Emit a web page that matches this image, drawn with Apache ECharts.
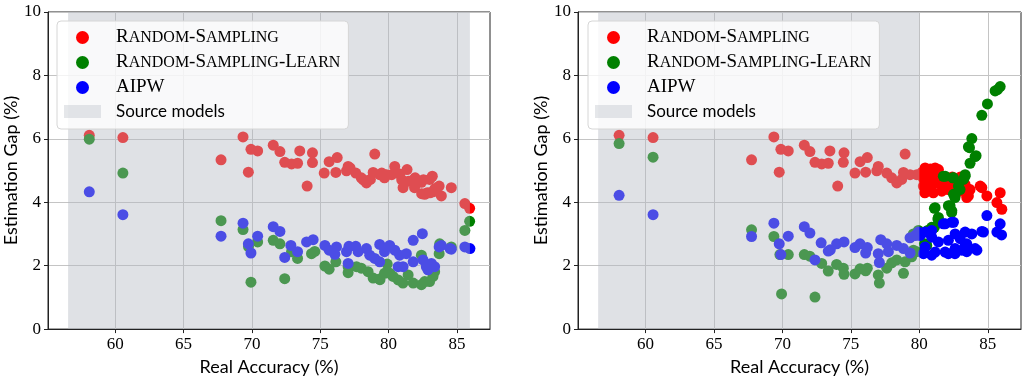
<!DOCTYPE html>
<html>
<head>
<meta charset="utf-8">
<script src="https://cdn.jsdelivr.net/npm/echarts@6/dist/echarts.min.js"></script>
<style>
  html, body { margin: 0; padding: 0; background: #fff; }
  #chart { width: 1026px; height: 381px; }
</style>
</head>
<body>
<div id="chart"></div>
<script>
// axis settings
const xMin = 55.08;
const xMax = 87.42;
const xTicks = [60, 65, 70, 75, 80, 85];
const yMin = 0;
const yMax = 10;
const yStep = 2;

// shaded "Source models" ranges (real accuracy %)
const leftSpan = [56.55, 85.95];
const rightSpan = [56.55, 80.0];

const seriesNames = ['Random-Sampling', 'Random-Sampling-Learn', 'AIPW', 'Source models'];

// left panel: [real accuracy, estimation gap]
const leftRandom = [
    [58.1, 6.11], [60.56, 6.04], [67.74, 5.34], [69.35, 6.06], [69.93, 5.67], [69.74, 4.95], [70.42, 5.62],
    [71.56, 5.80], [72.05, 5.60], [72.4, 5.26], [72.9, 5.21], [73.34, 5.23], [73.5, 5.62], [74.04, 4.51],
    [74.43, 5.56], [74.43, 5.25], [75.29, 4.92], [75.65, 5.28], [76.14, 4.94], [76.24, 5.41], [77.04, 5.13],
    [76.92, 4.99], [77.18, 5.08], [77.6, 4.92], [78.0, 4.77], [78.15, 4.71], [78.38, 4.61], [78.67, 4.72],
    [78.99, 5.52], [78.87, 4.94], [79.35, 4.87], [79.5, 4.92], [79.84, 4.87], [79.7, 4.77], [80.23, 4.87],
    [80.45, 5.13], [80.81, 4.89], [80.96, 4.71], [81.35, 5.03], [81.06, 4.46], [81.45, 4.66], [81.7, 4.68],
    [81.9, 4.46], [81.94, 4.77], [82.4, 4.63], [82.55, 4.71], [82.64, 4.25], [82.42, 4.27], [83.0, 4.72],
    [83.2, 4.82], [82.83, 4.30], [83.03, 4.30], [83.25, 4.33], [83.39, 4.43], [83.7, 4.51], [83.86, 4.20],
    [84.59, 4.46], [85.58, 3.96], [85.93, 3.81]
];
const leftLearn = [
    [58.1, 5.99], [60.56, 4.92], [67.74, 3.42], [69.35, 3.14], [69.75, 2.60], [70.42, 2.75], [71.56, 2.80],
    [72.05, 2.69], [69.93, 1.48], [72.4, 1.59], [72.9, 2.44], [73.34, 2.23], [74.36, 2.38], [74.6, 2.45],
    [75.34, 1.99], [75.65, 1.89], [76.14, 2.12], [77.04, 1.78], [77.04, 1.97], [77.65, 1.97], [78.0, 1.92],
    [78.5, 1.81], [78.87, 1.61], [79.35, 1.58], [79.37, 1.56], [79.7, 1.76], [79.9, 2.05], [80.1, 1.76],
    [80.33, 1.66], [80.7, 1.55], [81.05, 1.45], [81.43, 1.71], [81.8, 1.45], [82.4, 1.40], [82.4, 2.33],
    [82.64, 1.50], [83.0, 1.50], [83.25, 1.66], [83.27, 1.87], [83.37, 1.81], [83.74, 2.69], [83.7, 2.38],
    [84.59, 2.59], [85.58, 3.11], [85.93, 3.40]
];
const leftAipw = [
    [58.1, 4.33], [60.56, 3.61], [67.74, 2.93], [69.35, 3.34], [69.74, 2.69], [69.93, 2.40], [70.42, 2.93],
    [71.56, 3.23], [72.05, 3.08], [72.4, 2.26], [72.85, 2.64], [73.34, 2.44], [74.0, 2.75], [74.48, 2.82],
    [75.34, 2.64], [75.65, 2.49], [76.19, 2.59], [76.07, 2.36], [76.92, 2.44], [77.1, 2.61], [77.6, 2.61],
    [77.04, 2.07], [77.77, 2.44], [78.38, 2.54], [78.62, 2.33], [78.99, 2.23], [79.35, 2.12], [79.35, 2.67],
    [79.7, 2.44], [80.08, 2.64], [80.45, 2.49], [80.81, 2.33], [80.7, 1.97], [81.3, 2.38], [81.06, 1.97],
    [81.8, 2.12], [81.8, 2.80], [82.47, 3.01], [82.52, 2.18], [82.76, 1.97], [83.13, 2.07], [83.37, 1.97],
    [82.88, 1.87], [83.7, 2.59], [83.86, 2.64], [84.5, 2.54], [84.59, 2.52], [85.58, 2.59], [85.95, 2.54]
];

// right panel
const rightRandom = [
    [58.08, 6.11], [60.56, 6.04], [67.75, 5.34], [69.38, 6.06], [69.77, 4.95], [69.89, 5.67], [70.43, 5.62],
    [71.6, 5.80], [72.01, 5.60], [72.38, 5.26], [72.87, 5.21], [73.35, 5.23], [73.47, 5.62], [74.04, 4.51],
    [74.5, 5.56], [74.45, 5.26], [75.3, 4.92], [75.67, 5.28], [76.08, 4.95], [76.2, 5.41], [77.0, 5.13],
    [76.89, 4.99], [77.62, 4.92], [77.98, 4.77], [78.35, 4.61], [78.71, 4.72], [78.96, 5.52], [78.84, 4.94],
    [79.32, 4.87], [79.81, 4.87],
    [80.42, 5.08], [81.39, 5.03], [80.9, 4.87], [80.29, 4.51], [81.02, 4.30], [81.64, 4.35], [82.0, 4.72],
    [82.61, 4.61], [83.1, 4.46], [83.7, 4.40], [84.44, 4.51], [83.46, 4.15], [84.93, 4.20], [85.66, 3.99],
    [85.9, 4.30], [86.02, 3.78], [81.15, 5.08], [80.78, 4.51], [81.88, 4.46], [81.51, 4.77], [83.58, 4.20],
    [82.98, 4.35], [83.34, 4.56], [80.2, 4.95], [80.3, 4.75], [80.5, 4.62], [80.6, 4.90], [80.8, 5.05],
    [81.0, 4.75], [81.2, 4.60], [81.3, 4.90], [81.6, 4.55], [81.8, 4.65], [82.1, 4.40], [82.3, 4.55],
    [82.5, 4.30], [82.8, 4.70], [83.0, 4.80], [83.3, 4.45], [82.4, 4.80], [80.4, 4.30], [84.56, 4.46]
];
const rightLearn = [
    [58.08, 5.85], [60.56, 5.42], [67.75, 3.13], [69.38, 2.92], [69.82, 2.35], [70.43, 2.35], [69.94, 1.11],
    [72.38, 1.01], [71.6, 2.35], [72.0, 2.30], [72.87, 2.07], [73.35, 1.83], [73.96, 2.04], [74.5, 1.73],
    [74.45, 1.92], [75.3, 1.74], [75.67, 1.90], [76.08, 1.84], [76.2, 1.92], [77.0, 1.71], [77.08, 1.45],
    [77.62, 1.92], [77.98, 2.09], [78.35, 2.18], [78.84, 1.76], [78.96, 2.12], [79.44, 2.28], [79.57, 2.49],
    [79.56, 3.00], [79.8, 2.44], [79.93, 3.11],
    [80.37, 2.69], [80.54, 2.64], [80.61, 3.11], [80.9, 3.21], [81.1, 3.21], [81.35, 3.47], [81.39, 3.52],
    [81.1, 3.81], [81.15, 3.83], [81.75, 4.82], [81.88, 4.82], [82.44, 4.77], [82.49, 4.77], [82.12, 3.89],
    [82.24, 3.89], [82.36, 3.68], [82.37, 3.73], [82.6, 4.15], [82.61, 4.25], [82.49, 4.25], [82.85, 4.51],
    [82.97, 4.40], [83.22, 4.72], [83.34, 4.87], [83.34, 4.82], [83.7, 5.23], [84.07, 5.44], [84.14, 5.47],
    [83.58, 5.75], [83.66, 5.72], [83.83, 6.01], [84.56, 6.74], [84.97, 7.10], [85.53, 7.51], [85.7, 7.55],
    [85.9, 7.65]
];
const rightAipw = [
    [58.08, 4.22], [60.56, 3.61], [67.75, 2.92], [69.38, 3.34], [69.77, 2.69], [69.89, 2.35], [70.43, 2.93],
    [71.6, 3.23], [72.01, 3.03], [72.38, 2.18], [72.83, 2.72], [73.35, 2.46], [73.5, 2.5], [73.96, 2.69],
    [74.5, 2.75], [75.3, 2.57], [75.67, 2.69], [76.08, 2.40], [76.2, 2.57], [77.0, 2.38], [77.08, 2.10],
    [77.18, 2.82], [77.62, 2.69], [77.74, 2.44], [78.35, 2.64], [78.84, 2.54], [79.32, 2.40], [79.32, 2.88],
    [79.69, 2.95], [79.93, 3.06],
    [80.05, 2.95], [80.42, 3.06], [80.9, 2.90], [80.9, 3.11], [81.39, 2.75], [81.75, 3.32], [81.88, 3.32],
    [82.37, 3.37], [82.49, 3.37], [82.61, 3.00], [83.34, 3.06], [83.83, 3.00], [84.56, 3.08], [84.68, 3.06],
    [84.07, 2.54], [84.2, 2.49], [83.34, 2.64], [82.61, 2.54], [81.88, 2.43], [81.15, 2.43], [80.42, 2.59],
    [82.12, 2.80], [82.98, 2.85], [80.3, 2.38], [80.9, 2.33], [82.12, 2.38], [82.6, 2.38], [83.1, 2.49],
    [83.46, 2.44], [83.46, 2.69], [84.93, 3.58], [85.66, 3.06], [85.9, 3.32], [86.0, 2.97]
];

const chart = echarts.init(document.getElementById('chart'), null, { renderer: 'canvas' });

const tickFont = 'Liberation Serif';
const nameFont = 'Lato';
const spanColor = 'rgba(178, 184, 192, 0.42)';
const dotColors = ['#ff0000', '#008000', '#0000ff'];

// small caps: capitals stay big, lower case letters become smaller capitals
function smallCaps(name) {
    if (name === 'Source models') return '{sans|' + name + '}';
    let out = '';
    let cur = '';
    let style = '';
    for (const ch of name) {
        const st = (ch >= 'a' && ch <= 'z') ? 'small' : 'big';
        if (st !== style && cur) {
            out += '{' + style + '|' + cur + '}';
            cur = '';
        }
        style = st;
        cur += st === 'small' ? ch.toUpperCase() : ch;
    }
    return out + '{' + style + '|' + cur + '}';
}

function makeLegend(left) {
    return {
        left: left,
        top: 21,
        orient: 'vertical',
        selectedMode: false,
        z: 10,
        padding: [7, 8, 9, 7],
        itemWidth: 37,
        itemHeight: 13,
        itemGap: 6,
        backgroundColor: 'rgba(255,255,255,0.8)',
        borderColor: '#d6d6d6',
        borderWidth: 1,
        borderRadius: 4,
        data: [
            { name: seriesNames[0], icon: 'circle' },
            { name: seriesNames[1], icon: 'circle' },
            { name: seriesNames[2], icon: 'circle' },
            { name: seriesNames[3], icon: 'rect' }
        ],
        formatter: smallCaps,
        textStyle: {
            color: '#000',
            padding: [0, 0, 0, 10],
            rich: {
                big: { fontFamily: tickFont, fontSize: 19, lineHeight: 19, verticalAlign: 'bottom', color: '#000' },
                small: { fontFamily: tickFont, fontSize: 16, lineHeight: 16, verticalAlign: 'bottom', padding: [0, 0, 1, 0], color: '#000' },
                sans: { fontFamily: nameFont, fontSize: 17, lineHeight: 19, color: '#000' }
            }
        }
    };
}

function makeX(idx) {
    return {
        type: 'value',
        gridIndex: idx,
        min: xMin,
        max: xMax,
        name: 'Real Accuracy (%)',
        nameLocation: 'middle',
        nameGap: 24,
        nameTextStyle: { fontFamily: nameFont, fontSize: 18, color: '#000' },
        axisLine: { show: true, lineStyle: { color: '#222', width: 1 } },
        axisTick: { show: true, inside: false, length: 4, customValues: xTicks, lineStyle: { color: '#222' } },
        axisLabel: { customValues: xTicks, fontFamily: tickFont, fontSize: 17, color: '#000', margin: 7 },
        splitLine: { show: true, lineStyle: { color: '#c4c4c4', width: 1 } }
    };
}

function makeY(idx) {
    return {
        type: 'value',
        gridIndex: idx,
        min: yMin,
        max: yMax,
        interval: yStep,
        name: 'Estimation Gap (%)',
        nameLocation: 'middle',
        nameGap: 26,
        nameTextStyle: { fontFamily: nameFont, fontSize: 18, color: '#000' },
        axisLine: { show: true, lineStyle: { color: '#222', width: 1 } },
        axisTick: { show: true, inside: false, length: 4, lineStyle: { color: '#222' } },
        axisLabel: { fontFamily: tickFont, fontSize: 17, color: '#000', margin: 7 },
        splitLine: { show: true, lineStyle: { color: '#c4c4c4', width: 1 } }
    };
}

function dots(name, data, idx, color) {
    return {
        name: name,
        type: 'scatter',
        xAxisIndex: idx,
        yAxisIndex: idx,
        data: data,
        symbol: 'circle',
        symbolSize: 11,
        z: 2,
        itemStyle: { color: color, opacity: 1 },
        emphasis: { disabled: true }
    };
}

function shade(idx, span) {
    return {
        name: seriesNames[3],
        type: 'scatter',
        xAxisIndex: idx,
        yAxisIndex: idx,
        data: [],
        z: 5,
        itemStyle: { color: spanColor },
        markArea: {
            silent: true,
            z: 5,
            itemStyle: { color: spanColor },
            data: [[{ xAxis: span[0], yAxis: yMin }, { xAxis: span[1], yAxis: yMax }]]
        }
    };
}

const option = {
    animation: false,
    backgroundColor: '#fff',
    grid: [
        { left: 48, top: 12, width: 442, height: 321, show: true, borderColor: '#222', borderWidth: 1 },
        { left: 578, top: 12, width: 443, height: 321, show: true, borderColor: '#222', borderWidth: 1 }
    ],
    legend: [makeLegend(57), makeLegend(588)],
    xAxis: [makeX(0), makeX(1)],
    yAxis: [makeY(0), makeY(1)],
    series: [
        dots(seriesNames[0], leftRandom, 0, dotColors[0]),
        dots(seriesNames[1], leftLearn, 0, dotColors[1]),
        dots(seriesNames[2], leftAipw, 0, dotColors[2]),
        shade(0, leftSpan),
        dots(seriesNames[0], rightRandom, 1, dotColors[0]),
        dots(seriesNames[1], rightLearn, 1, dotColors[1]),
        dots(seriesNames[2], rightAipw, 1, dotColors[2]),
        shade(1, rightSpan)
    ]
};

chart.setOption(option);
</script>
</body>
</html>
